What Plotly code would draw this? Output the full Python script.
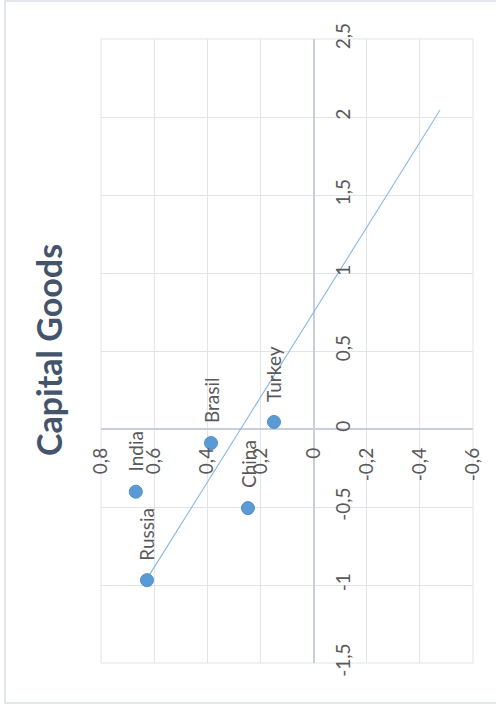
import numpy as np
import plotly.graph_objects as go

# Scatter data: each country has an x score and a y score
countries = ["Russia", "India", "Brasil", "China", "Turkey"]
x_values = [-0.969, -0.402, -0.090, -0.507, 0.045]
y_values = [0.627, 0.669, 0.386, 0.247, 0.149]

# Axis ticks (comma decimal separator)
x_ticks = [-1.5, -1.0, -0.5, 0.0, 0.5, 1.0, 1.5, 2.0, 2.5]
x_tick_labels = ["-1,5", "-1", "-0,5", "0", "0,5", "1", "1,5", "2", "2,5"]
y_ticks = [0.8, 0.6, 0.4, 0.2, 0.0, -0.2, -0.4, -0.6]
y_tick_labels = ["0,8", "0,6", "0,4", "0,2", "0", "-0,2", "-0,4", "-0,6"]

title_text = "Capital Goods"
forecast_forward = 2.0

# The chart is laid out turned a quarter turn: the x scores run bottom -> top,
# the y scores run right -> left, and all text reads bottom -> top.
W, H = 496, 704
L, R, T, B = 101, 23, 39, 41
pw, ph = W - L - R, H - T - B

def paper_x(px):
    return (px - L) / pw

def paper_y(py):
    return (H - B - py) / ph

# Linear trend line with forward forecast
slope, intercept = np.polyfit(x_values, y_values, 1)
trend_x = np.array([min(x_values), max(x_values) + forecast_forward])
trend_y = intercept + slope * trend_x

font_family = "Lato, 'Open Sans', sans-serif"
label_color = "#595959"
grid_color = "#e1e4eb"
axis_color = "#c9cfda"
series_color = "#5B9BD5"
label_size = 19

fig = go.Figure()

fig.add_trace(go.Scatter(
    x=trend_y, y=trend_x, mode="lines",
    line=dict(color="#8ab8e2", width=1.1),
    hoverinfo="skip", showlegend=False,
))

fig.add_trace(go.Scatter(
    x=y_values, y=x_values, mode="markers",
    marker=dict(color=series_color, size=13,
                line=dict(color="#4f8fc9", width=1)),
    showlegend=False,
))

# Data labels to the "right" of each point, i.e. above it once turned
for name, xv, yv in zip(countries, x_values, y_values):
    fig.add_annotation(
        x=yv, y=xv, xref="x", yref="y", text=name, showarrow=False,
        textangle=-90, xanchor="center", yanchor="bottom", yshift=18,
        font=dict(family=font_family, size=label_size, color=label_color),
    )

fig.add_annotation(
    x=paper_x(48), y=paper_y(350), xref="paper", yref="paper",
    text="<b>" + title_text + "</b>", showarrow=False, textangle=-90,
    xanchor="center", yanchor="middle",
    font=dict(family=font_family, size=34, color="#44546A"),
)

# Chart-area border
fig.add_shape(
    type="rect", xref="paper", yref="paper",
    x0=paper_x(5), x1=paper_x(W + 2), y0=paper_y(703), y1=paper_y(1),
    line=dict(color="#e3e6ec", width=2), layer="below",
)

y_lo, y_hi = x_ticks[0], x_ticks[-1]

fig.update_layout(
    width=W, height=H,
    margin=dict(l=L, r=R, t=T, b=B),
    paper_bgcolor="white", plot_bgcolor="white",
    showlegend=False,
    xaxis=dict(
        range=[y_ticks[0], y_ticks[-1]],
        tickmode="array", tickvals=y_ticks, ticktext=y_tick_labels,
        tickangle=-90, ticks="", ticklabelstandoff=14,
        anchor="free", position=(0 - y_lo) / (y_hi - y_lo), side="bottom",
        showgrid=True, gridcolor=grid_color, gridwidth=1,
        zeroline=True, zerolinecolor=axis_color, zerolinewidth=1.5,
        showline=False, mirror=False, automargin=False,
        tickfont=dict(family=font_family, size=label_size, color=label_color),
    ),
    yaxis=dict(
        range=[y_lo, y_hi],
        tickmode="array", tickvals=x_ticks, ticktext=x_tick_labels,
        tickangle=-90, ticks="", ticklabelstandoff=16,
        anchor="free", position=(y_ticks[0] - 0) / (y_ticks[0] - y_ticks[-1]),
        side="right",
        showgrid=True, gridcolor=grid_color, gridwidth=1,
        zeroline=True, zerolinecolor=axis_color, zerolinewidth=1.5,
        showline=False, automargin=False,
        tickfont=dict(family=font_family, size=label_size, color=label_color),
    ),
)

# Outer edges of the plot area carry a grid line too
fig.add_shape(type="rect", xref="paper", yref="paper", x0=0, x1=1, y0=0, y1=1,
              line=dict(color=grid_color, width=1), layer="below")

fig.write_html("out.html")
